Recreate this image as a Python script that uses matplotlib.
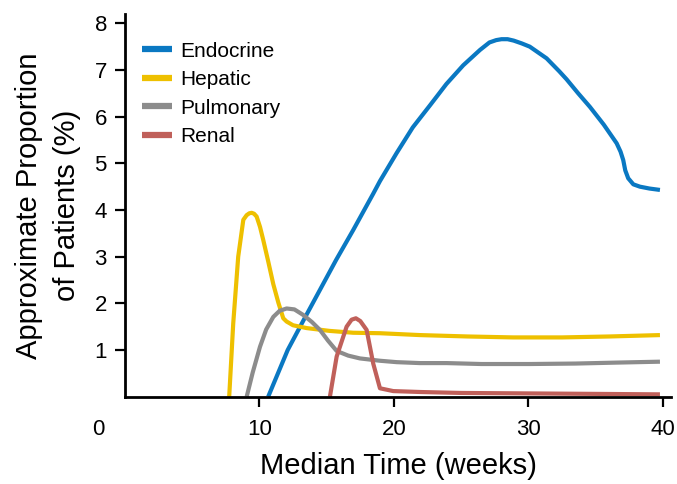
import numpy as np
import matplotlib.pyplot as plt
import matplotlib.transforms as mtransforms

plt.rcParams['font.family'] = ['Liberation Sans', 'DejaVu Sans']

# data
endo_x = [10.65, 12.1, 13.3, 14.5, 15.7, 16.97, 18.46, 18.96, 20.2, 21.4, 22.7,
          23.9, 25.15, 26.4, 27.1, 27.6, 28.0, 28.45, 28.9, 29.5, 30.1, 31.35,
          32.3, 32.84, 33.7, 34.57, 35.6, 36.56, 36.85, 37.05, 37.2, 37.42, 37.8,
          38.29, 39.0, 39.78]
endo_y = [0.0, 1.0, 1.65, 2.29, 2.93, 3.57, 4.35, 4.62, 5.22, 5.77, 6.25,
          6.7, 7.1, 7.43, 7.59, 7.64, 7.66, 7.66, 7.63, 7.57, 7.5, 7.25,
          6.97, 6.8, 6.5, 6.21, 5.83, 5.43, 5.25, 5.07, 4.85, 4.68, 4.55,
          4.5, 4.46, 4.43]

hep_x = [7.75, 8.05, 8.42, 8.8, 9.05, 9.25, 9.42, 9.6, 9.79, 10.04, 10.28, 10.65,
         11.03, 11.4, 11.77, 12.02, 12.5, 13.51, 15.2, 16.97, 18.96, 21.93, 25.5,
         28.87, 32.5, 36.0, 39.78]
hep_y = [0.0, 1.57, 3.0, 3.79, 3.89, 3.93, 3.94, 3.92, 3.86, 3.64, 3.36, 2.9,
         2.41, 2.02, 1.68, 1.61, 1.53, 1.47, 1.41, 1.37, 1.36, 1.32, 1.29,
         1.27, 1.27, 1.29, 1.32]

pul_x = [9.05, 9.5, 10.04, 10.5, 11.03, 11.5, 12.02, 12.6, 13.26, 13.9, 14.5,
         15.1, 15.74, 16.6, 17.47, 18.96, 20.2, 21.93, 23.92, 26.5, 30.1, 33.5,
         36.5, 39.78]
pul_y = [0.0, 0.52, 1.07, 1.44, 1.71, 1.84, 1.89, 1.87, 1.75, 1.6, 1.43,
         1.2, 0.98, 0.88, 0.82, 0.77, 0.74, 0.72, 0.72, 0.70, 0.70, 0.71,
         0.73, 0.75]

ren_x = [15.24, 15.74, 16.48, 16.85, 17.17, 17.5, 17.97, 18.46, 18.96, 19.95,
         22.0, 25.0, 30.0, 35.0, 39.78]
ren_y = [0.0, 0.86, 1.5, 1.65, 1.68, 1.62, 1.43, 0.71, 0.18, 0.12, 0.1,
         0.08, 0.07, 0.06, 0.05]

series = [
    ("Endocrine", endo_x, endo_y, "#0A78C2"),
    ("Hepatic", hep_x, hep_y, "#EEC000"),
    ("Pulmonary", pul_x, pul_y, "#8C8C8C"),
    ("Renal", ren_x, ren_y, "#C0605A"),
]

x_ticks = [10, 20, 30, 40]
y_ticks = [1, 2, 3, 4, 5, 6, 7, 8]

fig = plt.figure(figsize=(6.77, 4.84), dpi=100)
ax = fig.add_axes([0.1846, 0.1804, 0.8065, 0.7907])

for name, xs, ys, c in series:
    ax.plot(xs, ys, color=c, lw=3, label=name,
            solid_capstyle='butt', solid_joinstyle='round')

ax.set_xlim(0, 40.6)
ax.set_ylim(0, 8.2)
ax.set_xticks(x_ticks)
ax.set_yticks(y_ticks)
ax.tick_params(axis='both', labelsize=16, width=1.6, length=7, direction='out')
ax.tick_params(axis='x', pad=9)
ax.tick_params(axis='y', pad=6)

for s in ['top', 'right']:
    ax.spines[s].set_visible(False)
for s in ['left', 'bottom']:
    ax.spines[s].set_linewidth(2)
    ax.spines[s].set_zorder(5)

# shared origin label sits left of the corner
trans = mtransforms.blended_transform_factory(ax.transData, ax.transAxes)
ax.text(-2.0, -0.058, "0", transform=trans, ha='center', va='top', fontsize=16)

ax.set_xlabel("Median Time (weeks)", fontsize=21, labelpad=9)
ax.set_ylabel("Approximate Proportion\nof Patients (%)", fontsize=21,
              linespacing=1.45, labelpad=10)

leg = ax.legend(loc='upper left', bbox_to_anchor=(0.031, 0.928), frameon=False,
                fontsize=15, handlelength=1.45, handletextpad=0.4,
                labelspacing=0.46, borderpad=0, borderaxespad=0)
for h in leg.get_lines():
    h.set_linewidth(4.5)

fig.savefig("out.png", dpi=100)
